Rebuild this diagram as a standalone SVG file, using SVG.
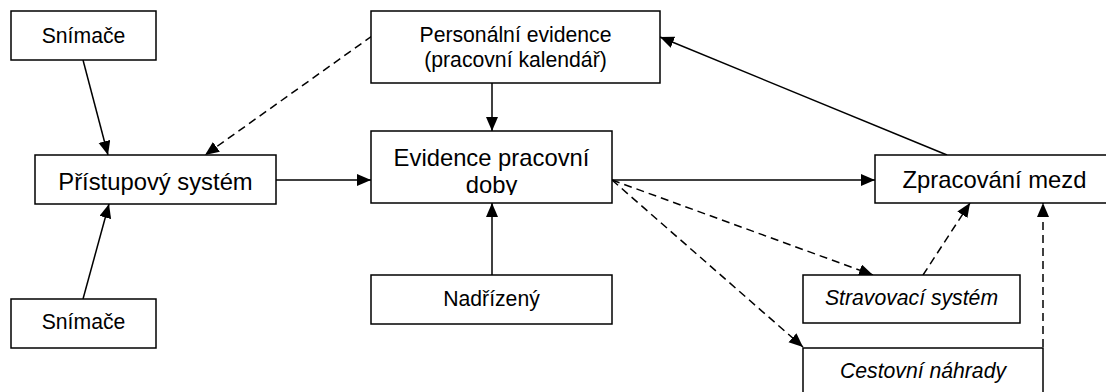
<svg xmlns="http://www.w3.org/2000/svg" width="1106" height="392" viewBox="0 0 1106 392">
<style>
.box{fill:#fff;stroke:#000;stroke-width:1.5}
.t{font-family:"Liberation Sans",Arial,sans-serif;font-size:21.2px;text-anchor:middle;fill:#000}
.tl{font-family:"Liberation Sans",Arial,sans-serif;font-size:23.8px;text-anchor:middle;fill:#000}
.it{font-style:italic}
.c{fill:none;stroke:#000;stroke-width:1.5}
.d{stroke-dasharray:8,5}
</style>
<defs>
<marker id="ah" markerUnits="userSpaceOnUse" markerWidth="16" markerHeight="14" refX="14" refY="6" orient="auto">
<path d="M0,0 L14,6 L0,12 z" fill="#000"/>
</marker>
<clipPath id="evclip"><rect x="371" y="131" width="241" height="64"/></clipPath>
</defs>
<g id="connectors">
<line class="c" x1="83" y1="60" x2="108" y2="155" marker-end="url(#ah)"/>
<line class="c" x1="83" y1="299" x2="109" y2="204" marker-end="url(#ah)"/>
<line class="c d" x1="372" y1="36" x2="205" y2="155" marker-end="url(#ah)"/>
<line class="c" x1="276" y1="180" x2="371" y2="180" marker-end="url(#ah)"/>
<line class="c" x1="492" y1="83" x2="492" y2="131" marker-end="url(#ah)"/>
<line class="c" x1="492" y1="275" x2="492" y2="203" marker-end="url(#ah)"/>
<line class="c" x1="612" y1="180" x2="875" y2="180" marker-end="url(#ah)"/>
<line class="c" x1="947" y1="155" x2="660" y2="37" marker-end="url(#ah)"/>
<line class="c d" x1="612" y1="180" x2="873" y2="275" marker-end="url(#ah)"/>
<line class="c d" x1="612" y1="180" x2="803" y2="347" marker-end="url(#ah)"/>
<line class="c d" x1="923" y1="275" x2="970" y2="203" marker-end="url(#ah)"/>
<line class="c d" x1="1043" y1="347" x2="1043" y2="203" marker-end="url(#ah)"/>
</g>
<g id="snimace1">
<rect class="box" x="11" y="11" width="145" height="49"/>
<text class="t" x="83.5" y="43">Snímače</text>
</g>
<g id="pristupovy">
<rect class="box" x="35" y="155" width="241" height="49"/>
<text class="tl" x="155.5" y="190">Přístupový systém</text>
</g>
<g id="snimace2">
<rect class="box" x="11" y="299" width="145" height="49"/>
<text class="t" x="83.5" y="329">Snímače</text>
</g>
<g id="personalni">
<rect class="box" x="371" y="11" width="289" height="72"/>
<text class="t" x="515.5" y="42">Personální evidence</text>
<text class="t" x="515.5" y="67">(pracovní kalendář)</text>
</g>
<g id="evidence">
<rect class="box" x="371" y="131" width="241" height="72"/>
<g clip-path="url(#evclip)">
<text class="tl" x="491.5" y="166">Evidence pracovní</text>
<text class="tl" x="491.5" y="193">doby</text>
</g>
</g>
<g id="nadrizeny">
<rect class="box" x="371" y="275" width="241" height="49"/>
<text class="t" x="491.5" y="306">Nadřízený</text>
</g>
<g id="zpracovani">
<rect class="box" x="875" y="155" width="240" height="48"/>
<text class="tl" x="994.5" y="188">Zpracování mezd</text>
</g>
<g id="stravovaci">
<rect class="box" x="803" y="275" width="217" height="48"/>
<text class="t it" x="911.5" y="305">Stravovací systém</text>
</g>
<g id="cestovni">
<rect class="box" x="803" y="348" width="240" height="60"/>
<text class="t it" x="923" y="378">Cestovní náhrady</text>
</g>
</svg>
